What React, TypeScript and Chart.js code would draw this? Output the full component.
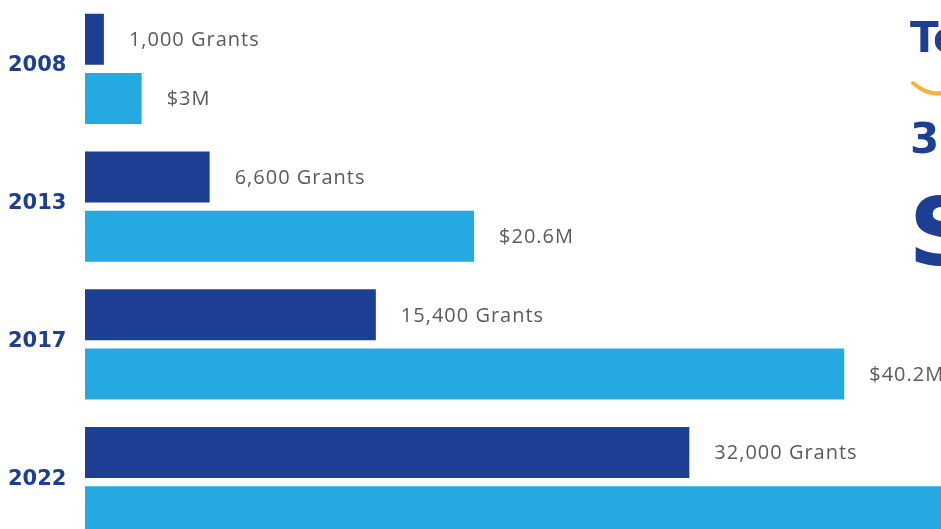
import React, { useEffect, useRef } from "react";
import { Chart, registerables } from "chart.js";

Chart.register(...registerables);

// Data (grants in thousands, funding in $M — both share one axis in the original)
const years = ["2008", "2013", "2017", "2022"];
const grants = [1.0, 6.6, 15.4, 32.0];
const funding = [3.0, 20.6, 40.2, 58.0];
const grantLabels = ["1,000 Grants", "6,600 Grants", "15,400 Grants", "32,000 Grants"];
const fundingLabels = ["$3M", "$20.6M", "$40.2M", "$58M"];

const DARK = "#1c3f94";
const LIGHT = "#25a9e1";
const GREY = "#5a5a5a";

const valueLabels = {
  id: "valueLabels",
  afterDatasetsDraw(chart: any) {
    const ctx = chart.ctx as CanvasRenderingContext2D;
    ctx.save();
    ctx.font = "400 20px 'Open Sans'";
    ctx.fillStyle = GREY;
    ctx.textBaseline = "middle";
    ctx.textAlign = "left";
    (ctx as any).letterSpacing = "1px";
    chart.data.datasets.forEach((_ds: any, i: number) => {
      const meta = chart.getDatasetMeta(i);
      const labels = i === 0 ? grantLabels : fundingLabels;
      meta.data.forEach((el: any, j: number) => {
        ctx.fillText(labels[j], el.x + 25, el.y + 1);
      });
    });
    ctx.restore();
  },
};

export default function App() {
  const canvasRef = useRef<HTMLCanvasElement | null>(null);

  useEffect(() => {
    if (!canvasRef.current) return;
    const chart = new Chart(canvasRef.current, {
      type: "bar",
      data: {
        labels: years,
        datasets: [
          {
            label: "Grants",
            data: grants,
            backgroundColor: DARK,
            categoryPercentage: 0.857,
            barPercentage: 0.864,
            borderWidth: 0,
          },
          {
            label: "Funding",
            data: funding,
            backgroundColor: LIGHT,
            categoryPercentage: 0.857,
            barPercentage: 0.864,
            borderWidth: 0,
          },
        ],
      },
      options: {
        indexAxis: "y",
        responsive: false,
        animation: false,
        layout: { padding: { left: 8, right: 0, top: 0, bottom: 0 } },
        plugins: {
          legend: { display: false },
          tooltip: { enabled: false },
        },
        scales: {
          x: { display: false, min: 0, max: 70 },
          y: {
            grid: { display: false },
            border: { display: false },
            ticks: {
              crossAlign: "far",
              color: DARK,
              labelOffset: -3,
              font: { family: "'DejaVu Sans'", weight: "bold", size: 21, lineHeight: 0.1 },
            },
            afterFit(scale: any) {
              scale.width = 77;
              scale.paddingTop = 0;
              scale.paddingBottom = 0;
            },
          },
        },
      },
      plugins: [valueLabels],
    } as any);
    return () => chart.destroy();
  }, []);

  return (
    <div
      style={{
        position: "fixed",
        left: 0,
        top: 0,
        width: 941,
        height: 529,
        overflow: "hidden",
        background: "#fff",
      }}
    >
      <canvas
        ref={canvasRef}
        width={1407}
        height={551}
        style={{ position: "absolute", left: 0, top: 0, width: 1407, height: 551 }}
      />
      <div
        style={{
          position: "absolute",
          left: 910,
          top: 17,
          fontFamily: "'DejaVu Sans'",
          fontWeight: "bold",
          fontSize: 42,
          lineHeight: 1,
          color: DARK,
          whiteSpace: "nowrap",
        }}
      >
        Total
      </div>
      <svg
        style={{ position: "absolute", left: 900, top: 70 }}
        width={80}
        height={40}
      >
        <path
          d="M 13 13 Q 37 34 61 13"
          fill="none"
          stroke="#f9b233"
          strokeWidth={4}
          strokeLinecap="round"
        />
      </svg>
      <div
        style={{
          position: "absolute",
          left: 910,
          top: 118,
          fontFamily: "'DejaVu Sans'",
          fontWeight: "bold",
          fontSize: 42,
          lineHeight: 1,
          color: DARK,
          whiteSpace: "nowrap",
        }}
      >
        32,000
      </div>
      <div
        style={{
          position: "absolute",
          left: 907,
          top: 173,
          fontFamily: "'DejaVu Sans'",
          fontWeight: "bold",
          fontSize: 110,
          lineHeight: 1,
          color: DARK,
          whiteSpace: "nowrap",
        }}
      >
        $
      </div>
    </div>
  );
}
